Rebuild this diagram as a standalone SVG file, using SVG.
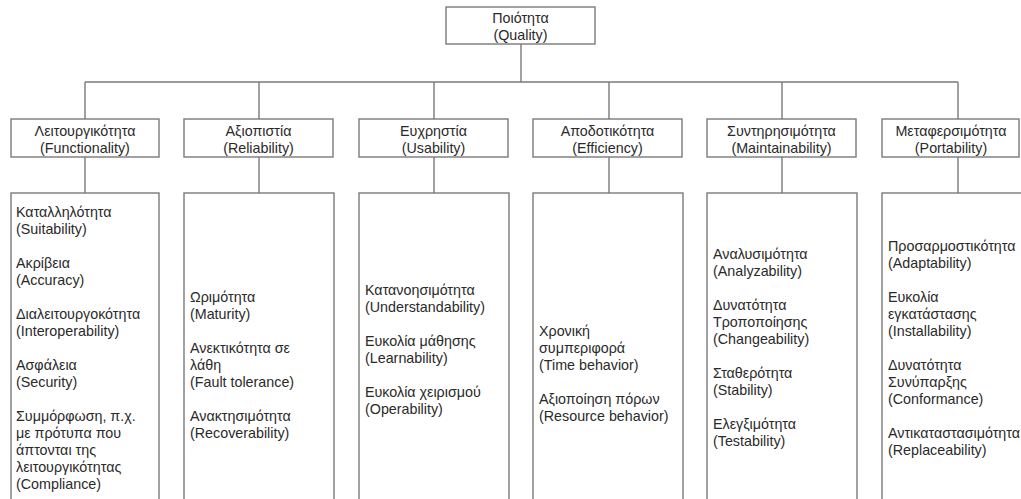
<svg xmlns="http://www.w3.org/2000/svg" width="1021" height="499" viewBox="0 0 1021 499">
<style>
.box{fill:#fff;stroke:#7a7a7a;stroke-width:1.4}
.ln{stroke:#7a7a7a;stroke-width:1.4;fill:none}
text{font-family:"Liberation Sans",Arial,sans-serif;font-size:14.3px;fill:#2a2a2a}
.c{text-anchor:middle}
</style>
<rect width="1021" height="499" fill="#fff"/>
<g id="connectors">
<path class="ln" d="M521 44V82M85 82H958M85 82V119M259 82V119M434 82V119M609 82V119M782 82V119M958 82V119"/>
<path class="ln" d="M85 157V193M259 157V193M434 157V193M609 157V193M782 157V193M958 157V193"/>
</g>
<g id="quality">
<rect class="box" x="446" y="7" width="149" height="37"/>
<text class="c" x="520.5" y="23">Ποιότητα</text>
<text class="c" x="520.5" y="40">(Quality)</text>
</g>
<g id="functionality">
<rect class="box" x="11" y="119" width="148" height="38"/>
<text class="c" x="85" y="136">Λειτουργικότητα</text>
<text class="c" x="85" y="153">(Functionality)</text>
</g>
<g id="reliability">
<rect class="box" x="184" y="119" width="149" height="38"/>
<text class="c" x="258.5" y="136">Αξιοπιστία</text>
<text class="c" x="258.5" y="153">(Reliability)</text>
</g>
<g id="usability">
<rect class="box" x="359" y="119" width="149" height="38"/>
<text class="c" x="433.5" y="136">Ευχρηστία</text>
<text class="c" x="433.5" y="153">(Usability)</text>
</g>
<g id="efficiency">
<rect class="box" x="533" y="119" width="149" height="38"/>
<text class="c" x="607.5" y="136">Αποδοτικότητα</text>
<text class="c" x="607.5" y="153">(Efficiency)</text>
</g>
<g id="maintainability">
<rect class="box" x="707" y="119" width="149" height="38"/>
<text class="c" x="781.5" y="136">Συντηρησιμότητα</text>
<text class="c" x="781.5" y="153">(Maintainability)</text>
</g>
<g id="portability">
<rect class="box" x="882" y="119" width="137" height="38"/>
<text class="c" x="951" y="136">Μεταφερσιμότητα</text>
<text class="c" x="951" y="153">(Portability)</text>
</g>
<g id="functionality-details">
<rect class="box" x="11" y="193" width="148" height="320"/>
<text x="16" y="216.5">Καταλληλότητα</text>
<text x="16" y="233.5">(Suitability)</text>
<text x="16" y="267.5">Ακρίβεια</text>
<text x="16" y="284.5">(Accuracy)</text>
<text x="16" y="318.5">Διαλειτουργοκότητα</text>
<text x="16" y="335.5">(Interoperability)</text>
<text x="16" y="369.5">Ασφάλεια</text>
<text x="16" y="386.5">(Security)</text>
<text x="16" y="420.5">Συμμόρφωση, π.χ.</text>
<text x="16" y="437.5">με πρότυπα που</text>
<text x="16" y="454.5">άπτονται της</text>
<text x="16" y="471.5">λειτουργικότητας</text>
<text x="16" y="488.5">(Compliance)</text>
</g>
<g id="reliability-details">
<rect class="box" x="184" y="193" width="150" height="320"/>
<text x="190" y="302">Ωριμότητα</text>
<text x="190" y="319">(Maturity)</text>
<text x="190" y="353">Ανεκτικότητα σε</text>
<text x="190" y="370">λάθη</text>
<text x="190" y="387">(Fault tolerance)</text>
<text x="190" y="421">Ανακτησιμότητα</text>
<text x="190" y="438">(Recoverability)</text>
</g>
<g id="usability-details">
<rect class="box" x="359" y="193" width="150" height="320"/>
<text x="365" y="294.5">Κατανοησιμότητα</text>
<text x="365" y="311.5">(Understandability)</text>
<text x="365" y="345.5">Ευκολία μάθησης</text>
<text x="365" y="362.5">(Learnability)</text>
<text x="365" y="396.5">Ευκολία χειρισμού</text>
<text x="365" y="413.5">(Operability)</text>
</g>
<g id="efficiency-details">
<rect class="box" x="533" y="193" width="150" height="320"/>
<text x="539" y="336">Χρονική</text>
<text x="539" y="353">συμπεριφορά</text>
<text x="539" y="370">(Time behavior)</text>
<text x="539" y="404">Αξιοποίηση πόρων</text>
<text x="539" y="421">(Resource behavior)</text>
</g>
<g id="maintainability-details">
<rect class="box" x="707" y="193" width="150" height="320"/>
<text x="713" y="259">Αναλυσιμότητα</text>
<text x="713" y="276">(Analyzability)</text>
<text x="713" y="310">Δυνατότητα</text>
<text x="713" y="327">Τροποποίησης</text>
<text x="713" y="344">(Changeability)</text>
<text x="713" y="378">Σταθερότητα</text>
<text x="713" y="395">(Stability)</text>
<text x="713" y="429">Ελεγξιμότητα</text>
<text x="713" y="446">(Testability)</text>
</g>
<g id="portability-details">
<rect class="box" x="882" y="193" width="150" height="320"/>
<text x="888" y="251">Προσαρμοστικότητα</text>
<text x="888" y="268">(Adaptability)</text>
<text x="888" y="302">Ευκολία</text>
<text x="888" y="319">εγκατάστασης</text>
<text x="888" y="336">(Installability)</text>
<text x="888" y="370">Δυνατότητα</text>
<text x="888" y="387">Συνύπαρξης</text>
<text x="888" y="404">(Conformance)</text>
<text x="888" y="438">Αντικαταστασιμότητα</text>
<text x="888" y="455">(Replaceability)</text>
</g>
</svg>
